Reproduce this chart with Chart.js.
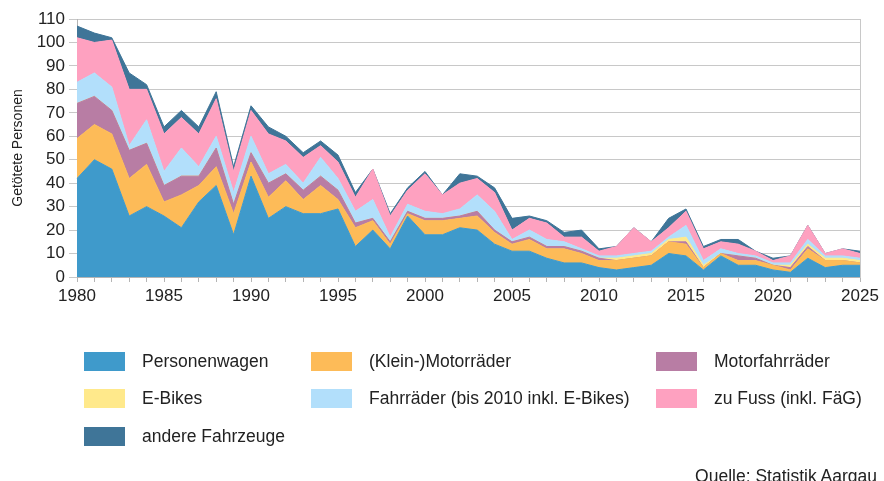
<!DOCTYPE html>
<html lang="de">
<head>
<meta charset="utf-8">
<script src="https://cdn.jsdelivr.net/npm/chart.js@4/dist/chart.umd.min.js"></script>
<style>
  html, body { margin: 0; padding: 0; background: #fff; }
  #wrap { position: relative; width: 884px; height: 481px; overflow: hidden; font-family: "Liberation Sans", Arial, sans-serif; color: #222; }
  #chart { position: absolute; left: 0; top: 0; }
  .leg { position: absolute; height: 19px; font-size: 17.5px; line-height: 19px; white-space: nowrap; }
  .leg .box { position: absolute; left: 0; top: 0; width: 41px; height: 19px; }
  .leg .txt { position: absolute; left: 58px; top: 0; }
  #source { position: absolute; right: 7px; top: 466px; font-size: 17.5px; }
</style>
</head>
<body>
<div id="wrap">
  <canvas id="chart" width="884" height="481"></canvas>
  <div id="legend"></div>
  <div id="source">Quelle: Statistik Aargau</div>
</div>
<script>
// Getötete Personen im Kanton Aargau nach Verkehrsart, 1980-2025
const years = [];
for (let y = 1980; y <= 2025; y++) years.push(String(y));

const personenwagen = [42,50,46,26,30,26,21,32,39,18, 43,25,30,27,27,29,13,20,12,26,
                       18,18,21,20,14,11,11,8,6,6, 4,3,4,5,10,9,3,9,5,5, 3,2,8,4,5,5];
const motorraeder   = [17,15,15,16,18,6,14,7,8,9, 6,9,11,6,12,4,8,4,2,1,
                       6,6,4,6,5,3,5,4,6,4, 3,4,4,4,5,5,1,1,2,2, 2,1,4,3,2,1];
const motorfahrraeder = [15,12,10,12,9,7,8,4,8,4, 4,6,3,4,4,4,2,1,1,1,
                         1,1,1,2,1,1,1,1,1,1, 1,0,0,0,0,1,0,0,2,1, 0,1,1,0,0,0];
const eBikes        = [0,0,0,0,0,0,0,0,0,0, 0,0,0,0,0,0,0,0,0,0,
                       0,0,0,0,0,0,0,0,0,0, 0,1,1,1,1,2,1,0,0,0, 0,1,1,1,1,1];
const fahrraeder    = [9,10,10,2,10,6,12,4,5,5, 7,4,4,3,8,5,5,8,2,3,
                       3,2,3,7,8,1,3,3,2,1, 1,1,1,1,1,5,2,2,1,1, 1,1,2,1,1,1];
const zuFuss        = [19,13,20,24,13,16,13,14,16,9, 11,17,10,11,5,7,6,13,9,6,
                       16,8,11,7,8,4,5,7,2,5, 2,4,11,4,4,6,5,3,4,2, 1,3,6,1,3,2];
const andere        = [5,4,1,7,2,3,3,3,3,2, 2,3,2,2,2,3,2,0,1,1,
                       1,0,4,1,2,5,1,1,2,3, 1,0,0,0,4,1,1,1,2,0, 1,0,0,0,0,1];

const series = [
    { label: 'Personenwagen', data: personenwagen, color: '#3f9acb' },
    { label: '(Klein-)Motorräder', data: motorraeder, color: '#fdbb58' },
    { label: 'Motorfahrräder', data: motorfahrraeder, color: '#b87da4' },
    { label: 'E-Bikes', data: eBikes, color: '#ffe98b' },
    { label: 'Fahrräder (bis 2010 inkl. E-Bikes)', data: fahrraeder, color: '#b2dffb' },
    { label: 'zu Fuss (inkl. FäG)', data: zuFuss, color: '#fea1c0' },
    { label: 'andere Fahrzeuge', data: andere, color: '#3f7598' }
];

const FONT = '"Liberation Sans", Arial, sans-serif';

const chart = new Chart(document.getElementById('chart'), {
    type: 'line',
    data: {
        labels: years,
        datasets: series.map((s, i) => ({
            label: s.label,
            data: s.data,
            borderColor: s.color,
            backgroundColor: s.color,
            borderWidth: 1,
            pointRadius: 0,
            tension: 0,
            fill: i === 0 ? 'origin' : '-1'
        }))
    },
    options: {
        responsive: false,
        animation: false,
        layout: { padding: { top: 19, right: 24, bottom: 164, left: 0 } },
        plugins: {
            legend: { display: false },
            tooltip: { enabled: false }
        },
        scales: {
            x: {
                grid: { drawOnChartArea: false, tickLength: 5, color: '#b5b5b5' },
                border: { color: '#b5b5b5' },
                ticks: {
                    autoSkip: false,
                    maxRotation: 0,
                    padding: 4,
                    color: '#222',
                    font: { family: FONT, size: 17 },
                    callback: function(value) {
                        const y = Number(this.getLabelForValue(value));
                        return y % 5 === 0 ? String(y) : '';
                    }
                },
                afterFit: scale => { scale.height = 40; }
            },
            y: {
                stacked: true,
                min: 0,
                max: 110,
                ticks: { stepSize: 10, padding: 4, color: '#222', font: { family: FONT, size: 17 } },
                grid: { color: '#c8c8c8', tickLength: 8 },
                border: { color: '#b5b5b5' },
                title: {
                    display: true,
                    text: 'Getötete Personen',
                    color: '#222',
                    font: { family: FONT, size: 14 },
                    padding: { top: 10, bottom: 0 }
                },
                afterFit: scale => { scale.width = 77; }
            },
            yRight: {
                position: 'right',
                display: true,
                ticks: { display: false },
                grid: { display: false },
                border: { display: true, color: '#c8c8c8' },
                afterFit: scale => { scale.width = 0; }
            }
        }
    }
});

// Legend in three columns, built from the chart's datasets
const colX = [84, 311, 656];
const rowY = [352, 389, 427];
const legend = document.getElementById('legend');
chart.data.datasets.forEach((ds, i) => {
    const item = document.createElement('div');
    item.className = 'leg';
    item.style.left = colX[i % 3] + 'px';
    item.style.top = rowY[Math.floor(i / 3)] + 'px';
    item.innerHTML = '<span class="box" style="background:' + ds.backgroundColor + '"></span>' +
                     '<span class="txt">' + ds.label + '</span>';
    legend.appendChild(item);
});
</script>
</body>
</html>
